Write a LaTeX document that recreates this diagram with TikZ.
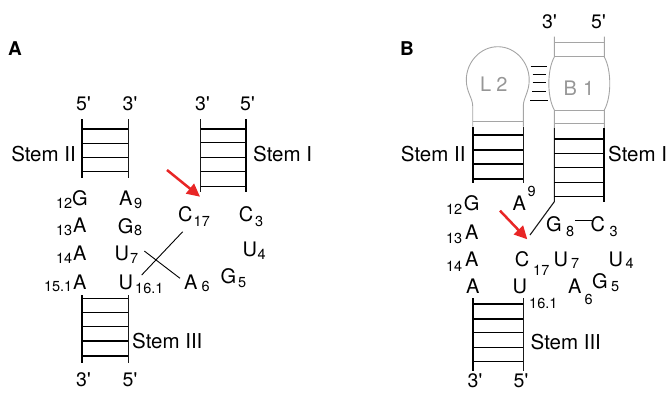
\documentclass[tikz,border=0pt]{standalone}
\usepackage{fontspec}
\newfontfamily\hv{TeX Gyre Heros}
\usetikzlibrary{arrows.meta}
\definecolor{arrred}{RGB}{232,38,38}
\definecolor{lgray}{RGB}{165,165,165}
\definecolor{tgray}{RGB}{150,150,150}
\tikzset{
  nt/.style={inner sep=0pt, anchor=base west, font=\hv\fontsize{20}{20}\selectfont},
  sb/.style={inner sep=0pt, anchor=base west, font=\hv\fontsize{14.5}{14.5}\selectfont},
  sbr/.style={sb, anchor=base east},
  stemlbl/.style={inner sep=0pt, anchor=base west, font=\hv\fontsize{20.5}{20.5}\selectfont},
  stemlblr/.style={stemlbl, anchor=base east},
  prime/.style={inner sep=0pt, anchor=base west, font=\hv\fontsize{19.5}{19.5}\selectfont},
  panel/.style={inner sep=0pt, anchor=base west, font=\hv\bfseries\fontsize{19}{19}\selectfont},
  graytext/.style={nt, text=tgray},
  rail/.style={line width=1.1pt, black!90},
  thickrail/.style={line width=1.8pt, black},
  rung/.style={line width=1.3pt, black},
  grayline/.style={line width=0.9pt, lgray},
  redarrow/.style={line width=2.5pt, arrred, -{Triangle[length=13pt,width=12.5pt]}},
  bond/.style={line width=0.9pt, black},
}
\begin{document}
\begin{tikzpicture}[x=1pt,y=-1pt]
\useasboundingbox (0,0) rectangle (668,392);
% panel labels
\node[panel] (labA) at (8,55) {A};
\node[panel] (labB) at (400,55) {B};

% ================= Panel A =================
% Stem II
\draw[thickrail] (82.3,119.3) -- (82.3,178.3);
\draw[rail] (128.3,119.3) -- (128.3,178.3);
\foreach \y in {129,143.3,157.7,171.7} \draw[rung] (82.3,\y) -- (128.3,\y);
% Stem I
\draw[rail] (200.7,119.3) -- (200.7,191.7);
\draw[thickrail] (245.7,119.3) -- (245.7,191.7);
\foreach \y in {129,142.7,157.3,171.7,186.7} \draw[rung] (200.7,\y) -- (245.7,\y);
% Stem III
\draw[thickrail] (82.3,295) -- (82.3,363.3);
\draw[rail] (128.3,295) -- (128.3,363.3);
\foreach \y in {298.3,312.3,326.7,341,356} \draw[rung] (82.3,\y) -- (128.3,\y);

% primes
\node[prime] (pA1) at (76,110.5) {5'};
\node[prime] (pA2) at (122.5,110.5) {3'};
\node[prime] (pA3) at (195,110.5) {3'};
\node[prime] (pA4) at (240,110.5) {5'};
\node[prime] (pA5) at (76,386.5) {3'};
\node[prime] (pA6) at (122.5,386.5) {5'};

% stem labels
\node[stemlblr] (stIIA) at (76,161.5) {Stem II};
\node[stemlbl] (stIA) at (253,161.5) {Stem I};
\node[stemlbl] (stIIIA) at (132,348) {Stem III};

% nucleotides
\node[nt] (gA12) at (72,205) {G};
\node[sbr] (sA12) at (72.5,208.3) {12};
\node[nt] (aA13) at (72.8,232.7) {A};
\node[sbr] (sA13) at (72.5,235) {13};
\node[nt] (aA14) at (72.8,260.7) {A};
\node[sbr] (sA14) at (72.5,263.3) {14};
\node[nt] (aA151) at (72.8,289) {A};
\node[sbr] (sA151) at (72.5,291.7) {15.1};
\node[nt] (aA9) at (118.8,205) {A};
\node[sb] (sA9) at (134,208.3) {9};
\node[nt] (gA8) at (117.7,233) {G};
\node[sb] (sA8) at (134,235.5) {8};
\node[nt] (uA7) at (114.3,260.7) {U};
\node[sb] (sA7) at (130,263) {7};
\node[nt] (uA161) at (118.3,289) {U};
\node[sb] (sA161) at (135,293) {16.1};
\node[nt] (cA17) at (178,221.7) {C};
\node[sb] (sA17) at (193.5,226) {17};
\node[nt] (cA3) at (238.7,221.7) {C};
\node[sb] (sA3) at (255,226) {3};
\node[nt] (uA4) at (242.3,256) {U};
\node[sb] (sA4) at (257.5,259.5) {4};
\node[nt] (gA5) at (220.4,283.3) {G};
\node[sb] (sA5) at (238,287) {5};
\node[nt] (aA6) at (183.8,289) {A};
\node[sb] (sA6) at (201.5,291.7) {6};

% crossing bonds
\coordinate (xa1) at (182.7,231.7);
\coordinate (xa2) at (141.7,275);
\coordinate (xb1) at (144.3,251);
\coordinate (xb2) at (180,278.3);
\draw[bond] (xa1) -- (xa2);
\draw[bond] (xb1) -- (xb2);

% red arrow A
\coordinate (arA1) at (167,170);
\coordinate (arA2) at (200,196.7);
\draw[redarrow] (arA1) -- (arA2);

% ================= Panel B =================
% L2 loop
\draw[grayline] (472.7,126.7) -- (472.7,106)
  .. controls (472.7,98) and (466.3,92) .. (466.3,80)
  .. controls (466.3,62) and (480.4,46.7) .. (497.8,46.7)
  .. controls (515.2,46.7) and (529.2,62) .. (529.2,80)
  .. controls (529.2,92) and (523.3,98) .. (523.3,106) -- (523.3,126.7);
\draw[grayline] (472.7,121.7) -- (523.3,121.7);
\node[graytext] (L2) at (480,91.7) {L\hspace{5pt}2};

% B1 region
\draw[grayline] (554.3,36.7) -- (554.3,57)
  .. controls (547,70) and (547,97) .. (554.3,110) -- (554.3,128);
\draw[grayline] (604.3,36.7) -- (604.3,57)
  .. controls (611.6,70) and (611.6,97) .. (604.3,110) -- (604.3,128);
\foreach \y in {42.7,56.7,110,123.5} \draw[grayline] (554.3,\y) -- (604.3,\y);
\node[graytext] (B1) at (563.5,95) {B\hspace{6pt}1};

% pairing between L2 and B1
\foreach \y/\a/\b in {66/530.5/547, 74/532.5/545.5, 82/532.5/545.5, 91.5/532/546, 100/530/547.5}
  \draw[line width=1pt, black] (\a,\y) -- (\b,\y);

% Stem II (B)
\draw[thickrail] (472.7,126.7) -- (472.7,183.3);
\draw[rail] (523.3,126.7) -- (523.3,183.3);
\foreach \y in {135,150,164,179} \draw[rung] (472.7,\y) -- (523.3,\y);

% Stem I (B)
\coordinate (sIBl) at (554.3,201.7);
\coordinate (sIBend) at (530,235);
\draw[rail] (554.3,128) -- (sIBl) -- (sIBend);
\draw[thickrail] (604.3,128) -- (604.3,201.7);
\foreach \y in {139,153.3,167.7,182.3,196.7} \draw[rung] (554.3,\y) -- (604.3,\y);

% Stem III (B)
\draw[thickrail] (472.7,298.3) -- (472.7,370.7);
\draw[rail] (523.3,298.3) -- (523.3,370.7);
\foreach \y in {304,319,332.7,347.3,361.7} \draw[rung] (472.7,\y) -- (523.3,\y);

% primes
\node[prime] (pB1) at (542,28.3) {3'};
\node[prime] (pB2) at (591,28.3) {5'};
\node[prime] (pB3) at (467.5,387.5) {3'};
\node[prime] (pB4) at (513.5,387.5) {5'};

% stem labels
\node[stemlblr] (stIIB) at (465.7,161.5) {Stem II};
\node[stemlbl] (stIB) at (608,161.5) {Stem I};
\node[stemlbl] (stIIIB) at (530.5,349) {Stem III};

% nucleotides
\node[nt] (gB12) at (463.7,210) {G};
\node[sbr] (sB12) at (462.5,214) {12};
\node[nt] (aB13) at (464.8,239.3) {A};
\node[sbr] (sB13) at (462.5,243.5) {13};
\node[nt] (aB14) at (464.8,266) {A};
\node[sbr] (sB14) at (462.5,271) {14};
\node[nt] (aB15) at (465.8,293.3) {A};
\node[nt] (aB9) at (512.5,210) {A};
\node[sb] (sB9) at (527.5,196.7) {9};
\node[nt] (gB8) at (546,231.7) {G};
\node[sb] (sB8) at (566,236.7) {8};
\node[nt] (cB3) at (590.5,231.7) {C};
\node[sb] (sB3) at (609.5,236.7) {3};
\coordinate (hb1) at (575,220.7);
\coordinate (hb2) at (591.5,220.7);
\draw[bond] (hb1) -- (hb2);
\node[nt] (cB17) at (514.7,266) {C};
\node[sb] (sB17) at (533,275) {17};
\node[nt] (uB7) at (553.3,266) {U};
\node[sb] (sB7) at (571,268.3) {7};
\node[nt] (uB4) at (608.3,266) {U};
\node[sb] (sB4) at (625.5,268.3) {4};
\node[nt] (uB161) at (512.3,293.3) {U};
\node[sb] (sB161) at (529,308.3) {16.1};
\node[nt] (aB6) at (568,293.3) {A};
\node[sb] (sB6) at (584.5,304) {6};
\node[nt] (gB5) at (592,288.3) {G};
\node[sb] (sB5) at (611,291.7) {5};

% red arrow B
\coordinate (arB1) at (500,210.7);
\coordinate (arB2) at (527.3,239.3);
\draw[redarrow] (arB1) -- (arB2);
\end{tikzpicture}
\end{document}
